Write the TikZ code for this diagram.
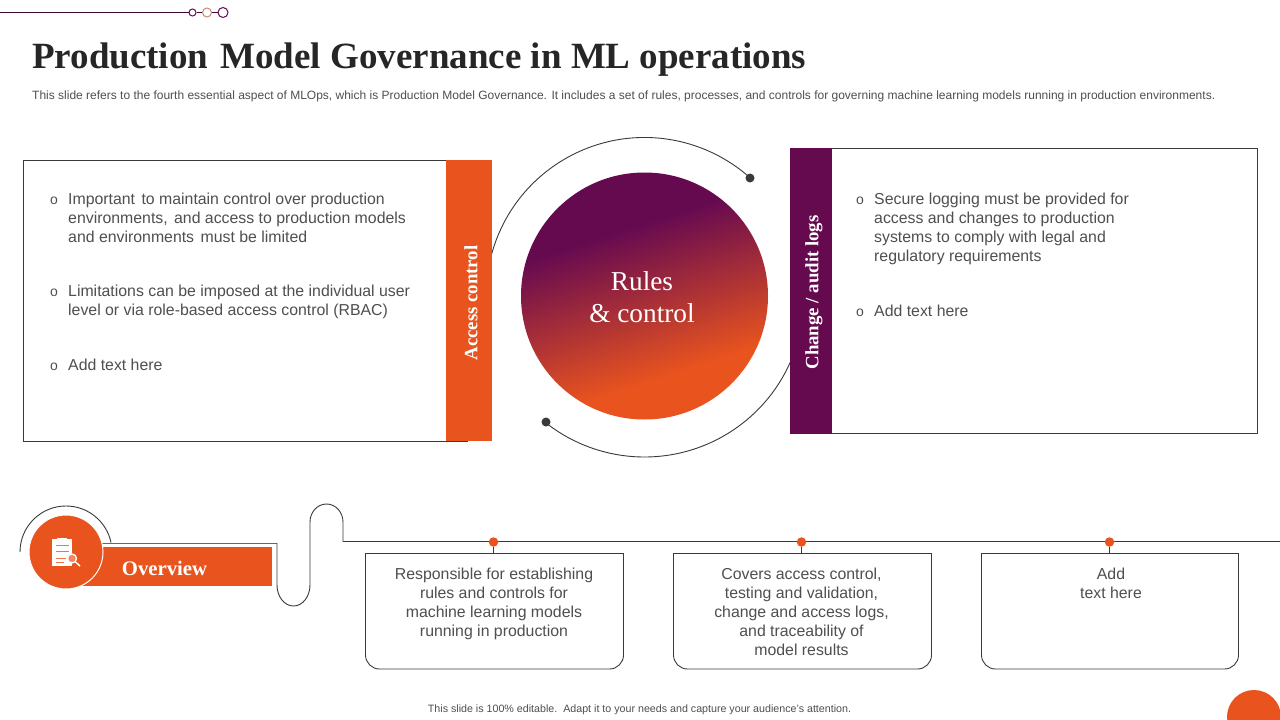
\documentclass[tikz,border=0pt]{standalone}
\usepackage{fontspec}
\setmainfont{Liberation Sans}
\newfontfamily\serifb{Liberation Serif}
\definecolor{orng}{HTML}{E9541E}
\definecolor{purp}{HTML}{660A50}
\definecolor{ink}{HTML}{3A3A3A}
\definecolor{txt}{HTML}{4F4F4F}
\pgfdeclareverticalshading{rulesgrad}{100bp}{color(0bp)=(orng); color(33bp)=(orng); color(64bp)=(purp); color(100bp)=(purp)}
\tikzset{
 x=1pt,y=-1pt,
 body/.style={font=\fontsize{15.85}{19}\selectfont,text=txt,align=left,anchor=north west,inner sep=0pt},
 cardtext/.style={font=\fontsize{15.85}{19}\selectfont,text=txt,align=center,anchor=north,inner sep=0pt},
 bul/.style={font=\fontsize{14}{14}\selectfont,text=txt,inner sep=0pt},
 panel/.style={draw=ink,line width=0.9pt,fill=white},
 thin line/.style={draw=ink,line width=0.9pt},
 side/.style={font=\serifb\bfseries\fontsize{18.8}{20}\selectfont,text=white,rotate=90,inner sep=0pt},
 dot/.style={circle,fill=ink,inner sep=0pt,minimum size=9pt},
 pin/.style={circle,fill=orng,inner sep=0pt,minimum size=9.5pt},
 ring/.style={circle,draw=purp,line width=1pt,fill=white,inner sep=0pt},
}
\begin{document}
\begin{tikzpicture}
\useasboundingbox (0,0) rectangle (1280,720);
\fill[white] (0,0) rectangle (1280,720);
% top ornament
\node[ring,minimum size=7pt] (r1) at (192.5,12.5) {};
\node[ring,draw=orng!70!black!60!white,minimum size=9pt] (r2) at (207,12.5) {};
\node[ring,minimum size=10pt] (r3) at (223,12.5) {};
\coordinate (r0) at (0,12.5);
\draw[purp!60!black,line width=0.9pt] (r0) -- (r1) (r1) -- (r2) (r2) -- (r3);
% title
\node[anchor=west,inner sep=0pt,font=\serifb\bfseries\fontsize{37}{40}\selectfont,text=black!85] (title) at (32,59.5) {Production\hspace{3pt} Model Governance in ML operations};
\node[anchor=west,inner sep=0pt,font=\fontsize{12}{14}\selectfont,text=txt] (sub) at (32,96) {This slide refers to the fourth essential aspect of MLOps, which is Production Model Governance. It includes a set of rules, processes, and controls for governing machine learning models running in production environments.};
% arcs around centre
\coordinate (c) at (644.5,296);
\coordinate (c2) at (644.5,297.5);
\node[dot] (d1) at (750,178) {};
\node[dot] (d2) at (546,422) {};
\draw[thin line] (c) ++(195:158.5) arc[start angle=195,end angle=312,radius=158.5];
\draw[thin line] (c2) ++(24:159.5) arc[start angle=24,end angle=128,radius=159.5];
% left panel
\draw[panel] (468,160.5) -- (23.5,160.5) -- (23.5,441) -- (468,441);
\fill[orng] (446,160) rectangle (492,441);
\node[side] (ac) at (471,303) {Access control};
% right panel
\draw[panel] (790,148.5) -- (1257.5,148.5) -- (1257.5,433.5) -- (790,433.5);
\fill[purp] (790,148) rectangle (832,434);
\node[side] (cl) at (814,292.5) {Change / audit logs};
% centre
\shade[shading=rulesgrad,shading angle=18] (c) circle[radius=123.5];
\node[align=center,text=white,inner sep=0pt,font=\serifb\fontsize{27.3}{32}\selectfont] (rc) at (642,297) {Rules\\\& control};
% left text
\node[bul] (b1) at (54,200.5) {o};
\node[body] (t1) at (68,192.5) {Important\hspace{2pt} to maintain control over production\\environments,\hspace{2pt} and access to production models\\and environments\hspace{2pt} must be limited};
\node[bul] (b2) at (54,292.5) {o};
\node[body] (t2) at (68,284.5) {Limitations can be imposed at the individual user\\level or via role-based access control (RBAC)};
\node[bul] (b3) at (54,366.5) {o};
\node[body] (t3) at (68,358.5) {Add text here};
% right text
\node[bul] (b4) at (860,200.5) {o};
\node[body] (t4) at (874,192.5) {Secure logging must be provided for\\access and changes to production\\systems to comply with legal and\\regulatory requirements};
\node[bul] (b5) at (860,312.5) {o};
\node[body] (t5) at (874,304.5) {Add text here};
% overview
\draw[thin line] (66,552) ++(180:46) arc[start angle=180,end angle=348,radius=46];
\fill[orng] (75,547) rectangle (272,586);
\draw[draw=black!60,line width=1pt] (100,543) -- (277,543);
\draw[thin line] (277,543) -- (277,585) arc[start angle=180,end angle=0,x radius=16.5,y radius=21] -- (310,522) arc[start angle=180,end angle=360,x radius=16.5,y radius=18] -- (343,541.5) -- (1280,541.5);
\node[circle,fill=orng,draw=white,line width=1pt,minimum size=74pt,inner sep=0pt] (ov) at (66,552) {};
\node[inner sep=0pt,font=\serifb\bfseries\fontsize{20.7}{22}\selectfont,text=white] (ovt) at (164.5,568.5) {Overview};
% clipboard icon
\fill[white] (52,539) rectangle (72,566);
\fill[white] (57,537.5) rectangle (67,541);
\draw[orng!80,line width=0.5pt] (56,545) -- (69,545) (56,551) -- (69,551) (56,558) -- (66,558) (56,562) -- (64,562);
\draw[white,line width=1.3pt,fill=orng!70!white] (72,558.5) circle[radius=4.5];
\draw[white,line width=1.5pt] (75.5,562) -- (80,566);
% cards
\foreach \xa/\xb/\n in {365.5/623.5/a,673.5/931.5/b,981.5/1238.5/c}{
  \draw[panel] (\xa,553.5) -- (\xb,553.5) -- (\xb,655) arc[start angle=0,end angle=90,radius=14] -- ({\xa+14},669) arc[start angle=90,end angle=180,radius=14] -- cycle;
}
\node[pin] (p1) at (493.5,542) {};
\node[pin] (p2) at (801.5,542) {};
\node[pin] (p3) at (1109.5,542) {};
\draw[thin line] (p1) -- (493.5,553) (p2) -- (801.5,553) (p3) -- (1109.5,553);
\node[cardtext] (ct1) at (494,567.5) {Responsible for establishing\\rules and controls for\\machine learning models\\running in production};
\node[cardtext] (ct2) at (801.5,567.5) {Covers access control,\\testing and validation,\\change and access logs,\\and traceability of\\model results};
\node[cardtext] (ct3) at (1111,567.5) {Add\\text here};
% footer
\node[inner sep=0pt,font=\fontsize{10.68}{12}\selectfont,text=txt] (foot) at (639.5,710) {This slide is 100\% editable.\hspace{2pt} Adapt it to your needs and capture your audience's attention.};
\begin{scope}
\clip (1200,680) rectangle (1280,720);
\fill[orng] (1254,717) circle[radius=27];
\end{scope}
\end{tikzpicture}
\end{document}
